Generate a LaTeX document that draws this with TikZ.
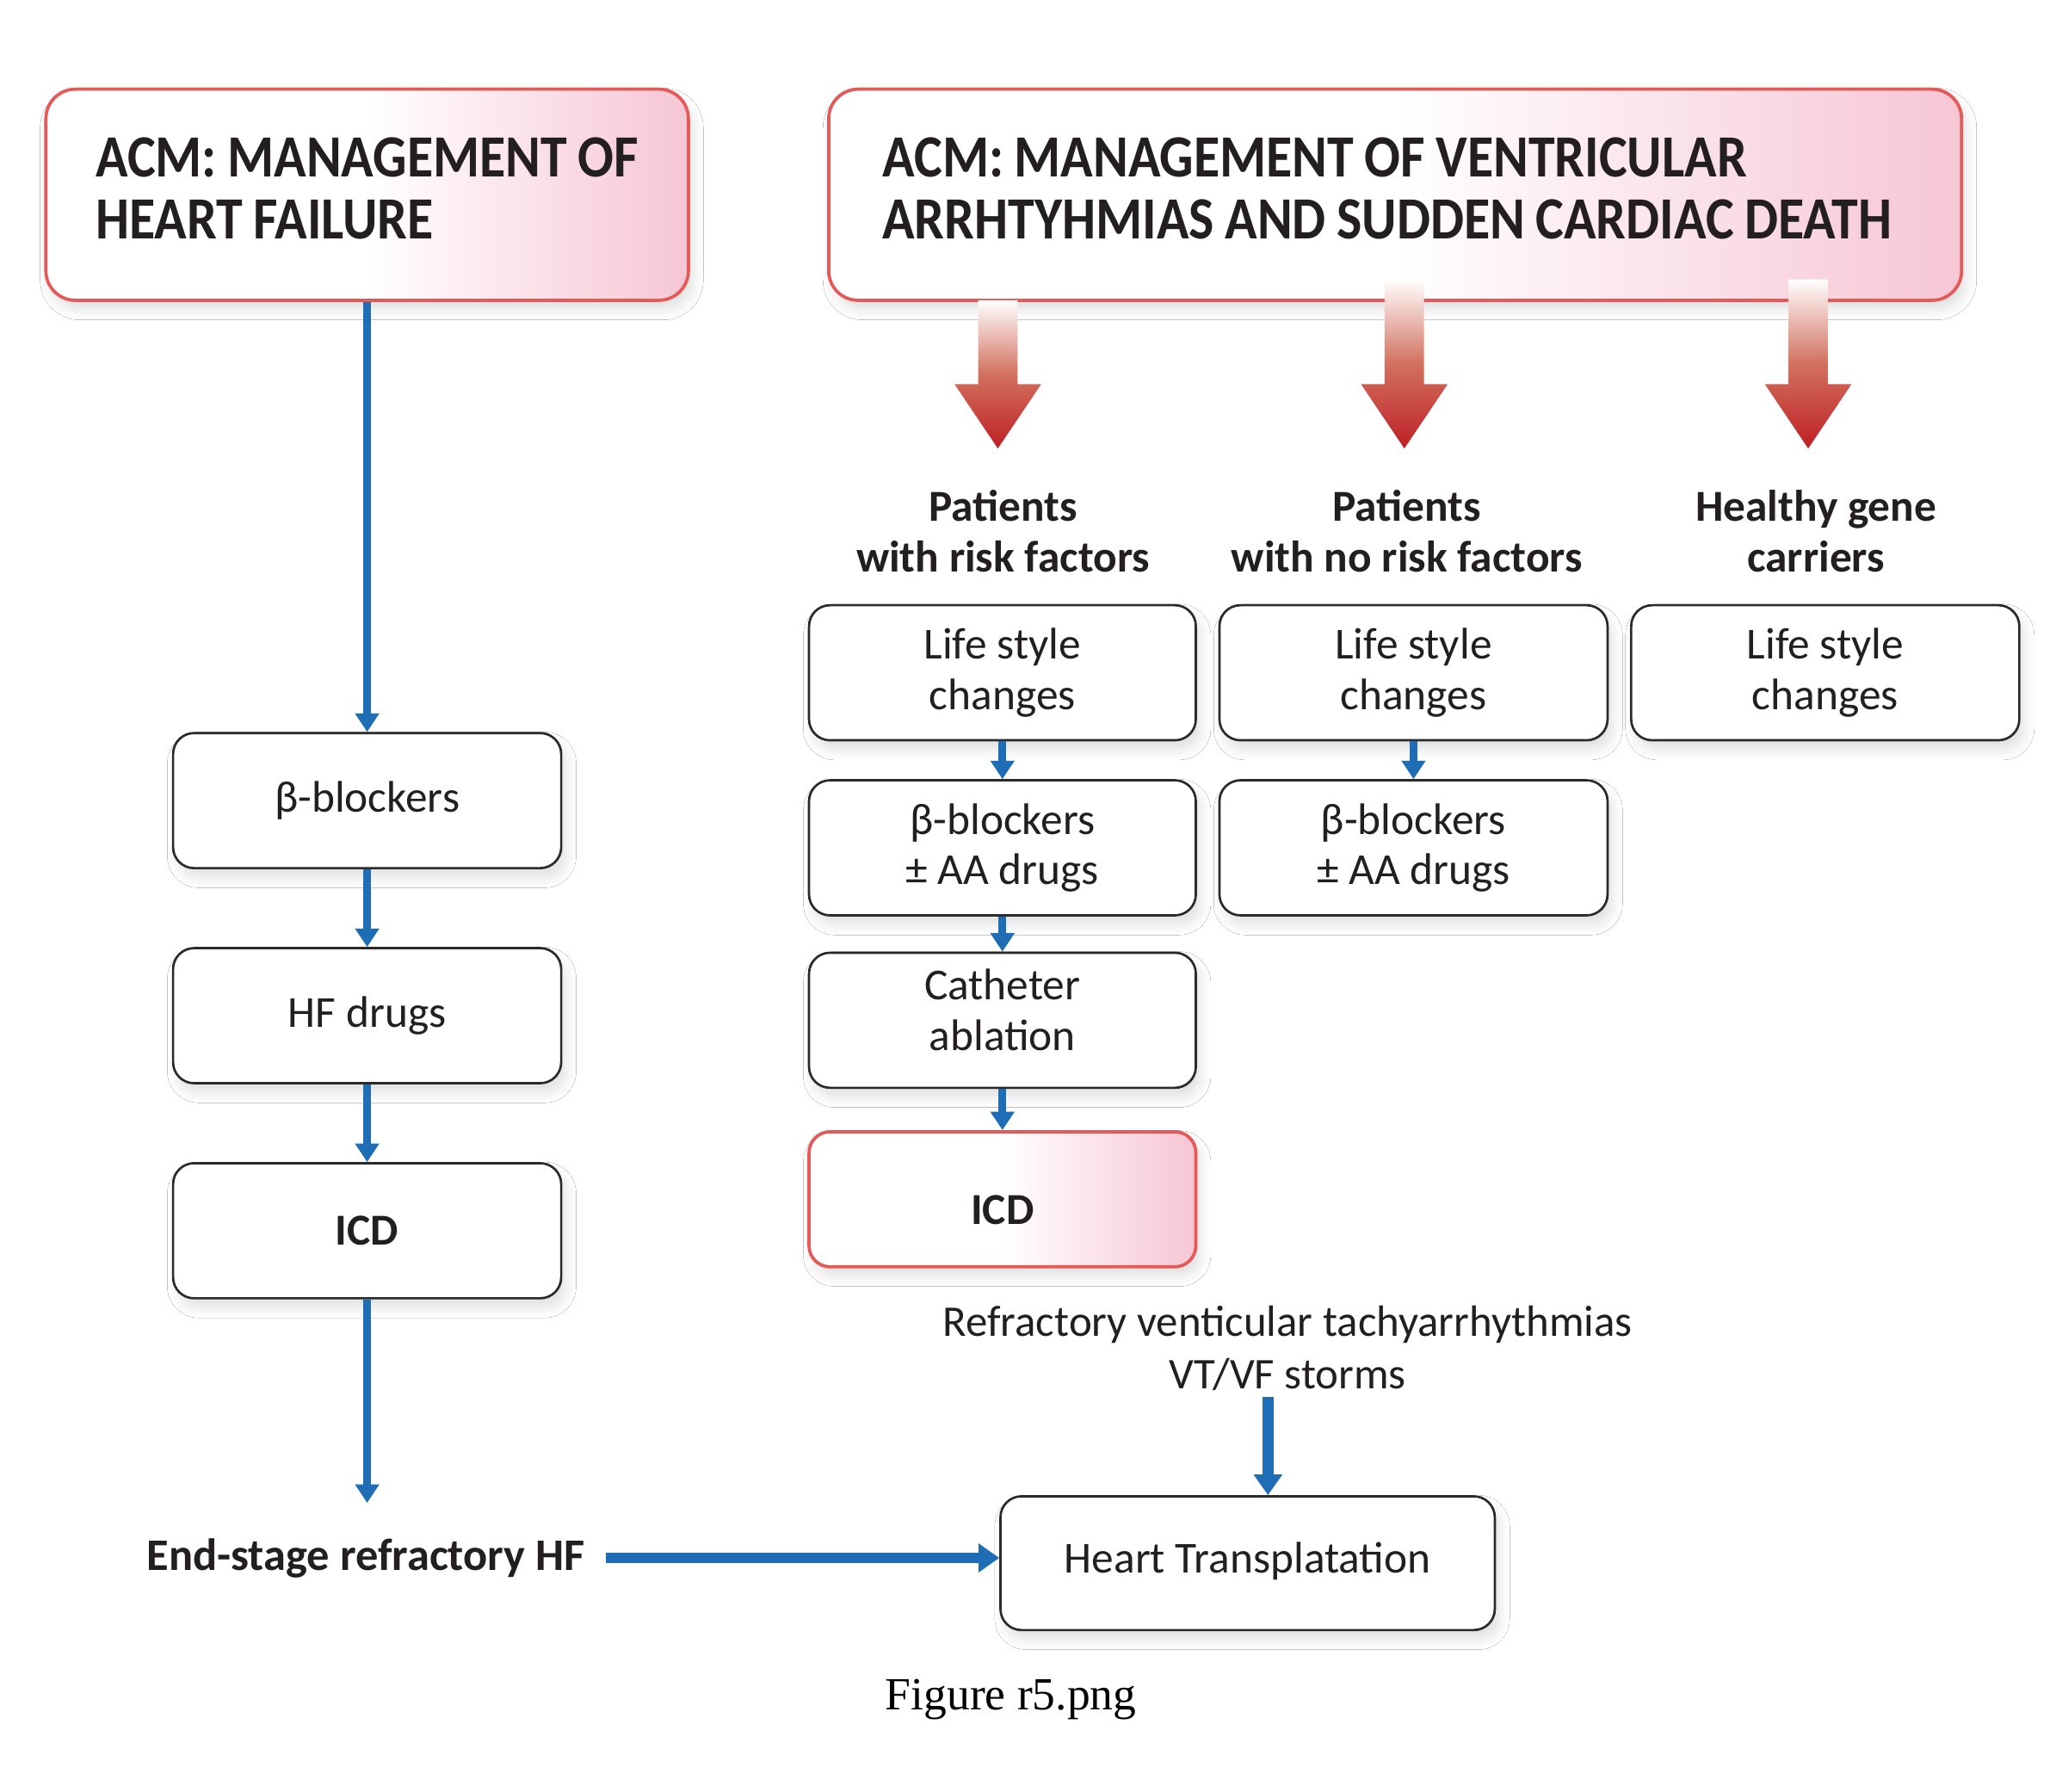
\documentclass[tikz,border=0pt]{standalone}
\usepackage{graphicx}
\usepackage{fontspec}
\setmainfont{Carlito}
\newfontfamily\capfont{Liberation Serif}
\usetikzlibrary{arrows.meta,shadows.blur}
\frenchspacing
\definecolor{hdrred}{HTML}{E55A58}
\definecolor{hdrpink}{HTML}{F6C6D4}
\definecolor{arrblue}{HTML}{1F6DB5}
\definecolor{arrred}{HTML}{BE2026}
\definecolor{arrmid}{HTML}{D2705E}
\definecolor{boxline}{HTML}{2A2A2A}
\definecolor{txt}{HTML}{231F20}
% raise a block of lines without changing the node size
\newcommand\liftc[2]{\raisebox{#1}[\height][\depth]{\begin{tabular}{@{}c@{}}#2\end{tabular}}}
\newcommand\hdrtext[2]{\spaceskip=0.2em\relax\raisebox{#1}[\height][\depth]{\scalebox{0.89}[1]{\begin{tabular}{@{}l@{}}#2\end{tabular}}}}
\tikzset{
  softshadow/.style={blur shadow={shadow xshift=2pt, shadow yshift=-4pt, shadow blur radius=4.5pt, shadow opacity=12}},
  hdrbox/.style={draw=hdrred, line width=1.4pt, rounded corners=0.45cm, left color=white, right color=hdrpink, middle color=white,
    softshadow, minimum height=161*0.02cm, align=left, text=txt, font=\fontsize{26}{26.7}\selectfont\bfseries},
  wbox/.style={draw=boxline, line width=1pt, rounded corners=0.32cm, fill=white, softshadow,
    minimum width=296*0.02cm, minimum height=103*0.02cm, align=center, text=txt, font=\fontsize{19.2}{21.8}\selectfont},
  redbox/.style={wbox, draw=hdrred, line width=1.4pt, left color=white, right color=hdrpink, middle color=white, font=\fontsize{19.2}{21.8}\selectfont\bfseries},
  lbl/.style={align=center, text=txt, inner sep=0pt, font=\fontsize{19.2}{22.2}\selectfont\bfseries},
  plainlbl/.style={align=center, text=txt, inner sep=0pt, font=\fontsize{19}{22.8}\selectfont},
  thinarr/.style={draw=arrblue, line width=3.4pt, -{Triangle[length=8pt,width=10pt]}},
  thickarr/.style={draw=arrblue, line width=4.8pt, -{Triangle[length=9pt,width=12pt]}},
}
\newcommand\fatarrow[2]{%
  \shade[top color=white, bottom color=arrred, middle color=arrmid]
    (#1-15,#2) -- (#1+15,#2) -- (#1+15,293) -- (#1+33,293) -- (#1,342) -- (#1-33,293) -- (#1-15,293) -- cycle;}
\begin{document}
\begin{tikzpicture}[x=0.02cm,y=-0.02cm]
\useasboundingbox[fill=white] (0,0) rectangle (1568,1366);

% headers
\node[hdrbox, text width=414*0.02cm, inner xsep=38*0.02cm] (hL) at (280,148.5)
  {\hdrtext{-0.3pt}{ACM: MANAGEMENT OF\\HEART FAILURE}};
\node[hdrbox, text width=782*0.02cm, inner xsep=41*0.02cm] (hR) at (1064,148.5)
  {\hdrtext{-0.3pt}{ACM: MANAGEMENT OF VENTRICULAR\\ARRHTYHMIAS AND SUDDEN CARDIAC DEATH}};

% red arrows
\fatarrow{761}{229}
\fatarrow{1071}{213}
\fatarrow{1379}{213}

% column labels
\node[lbl] (ch1) at (765,405) {Patients\\with risk factors};
\node[lbl] (ch2) at (1073,405) {Patients\\with no risk factors};
\node[lbl] (ch3) at (1385,405) {Healthy gene\\carriers};

% left column
\node[wbox] (bbL) at (280,610.5) {β-blockers};
\node[wbox] (hfL) at (280,774.5) {HF drugs};
\node[wbox, font=\fontsize{19.2}{21.8}\selectfont\bfseries] (icdL) at (280,938.5) {ICD};
\node[lbl, font=\fontsize{19.6}{22.2}\selectfont\bfseries] (es) at (279,1188) {End-stage refractory HF};
\coordinate (esTop) at (280,1146);

% right columns
\node[wbox, minimum width=295*0.02cm] (ls1) at (764.5,513) {Life style\\changes};
\node[wbox, minimum width=295*0.02cm] (bb1) at (764.5,646.5) {β-blockers\\± AA drugs};
\node[wbox, minimum width=295*0.02cm] (ca1) at (764.5,778) {\liftc{2.3pt}{Catheter\\ablation}};
\node[redbox, minimum width=295*0.02cm] (icd1) at (764.5,914.5) {\liftc{-6.6pt}{ICD}};

\node[wbox] (ls2) at (1078,513) {Life style\\changes};
\node[wbox] (bb2) at (1078,646.5) {β-blockers\\± AA drugs};

\node[wbox] (ls3) at (1392,513) {Life style\\changes};

% bottom
\node[plainlbl] (vt) at (982,1028) {Refractory venticular tachyarrhythmias\\VT/VF storms};
\coordinate (vtb) at (967,1065);
\node[wbox, minimum width=377*0.02cm, minimum height=102*0.02cm] (ht) at (951.5,1192) {\liftc{0pt}{Heart Transplatation}};

\node[text=black, inner sep=0pt, font=\capfont\fontsize{20}{24}\selectfont] (cap) at (771,1296) {Figure r5.png};

% blue arrows
\draw[thinarr] (hL.south) -- (bbL.north);
\draw[thinarr] (bbL.south) -- (hfL.north);
\draw[thinarr] (hfL.south) -- (icdL.north);
\draw[thinarr] (icdL.south) -- (esTop);
\draw[thinarr] (ls1.south) -- (bb1.north);
\draw[thinarr] (bb1.south) -- (ca1.north);
\draw[thinarr] (ca1.south) -- (icd1.north);
\draw[thinarr] (ls2.south) -- (bb2.north);
\draw[thickarr, shorten <=9pt] (es.east) -- (es.east -| ht.west);
\draw[thickarr] (vtb) -- (vtb |- ht.north);
\end{tikzpicture}
\end{document}
